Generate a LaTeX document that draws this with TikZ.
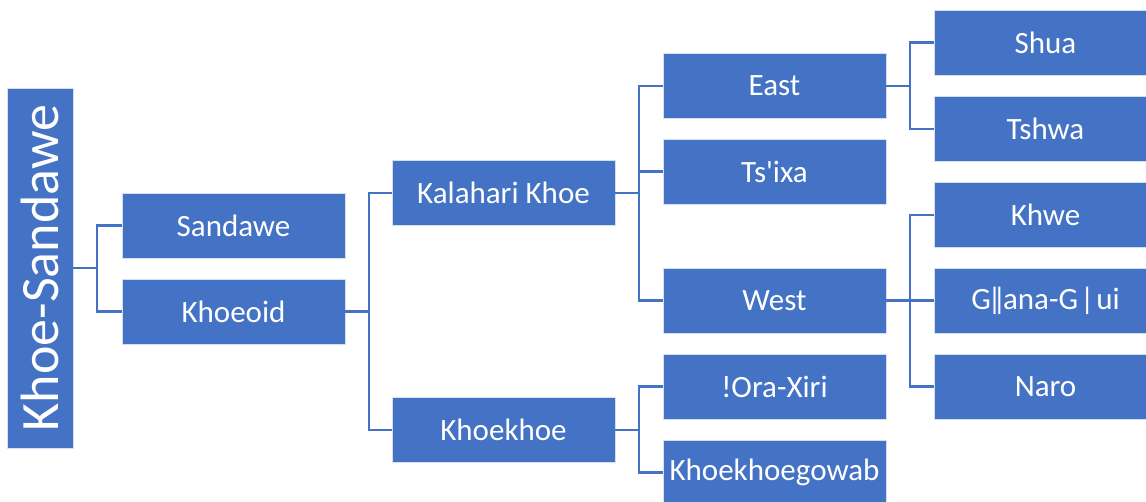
\documentclass[tikz,border=0pt]{standalone}
\usepackage{fontspec}
\setmainfont{Carlito}
\usepackage{graphicx}
\usetikzlibrary{positioning}
\definecolor{officeblue}{HTML}{4472C4}
\definecolor{boxedge}{HTML}{D5DFF2}
\tikzset{
  langbox/.style={rectangle, fill=officeblue, draw=boxedge, line width=0.8pt, text=white,
    minimum width=223pt, minimum height=65pt, inner sep=0pt,
    font=\fontsize{31}{37}\selectfont},
  rootbox/.style={langbox, minimum width=66pt, minimum height=360pt,
    font=\fontsize{54}{60}\selectfont},
  branch/.style={draw=officeblue, line width=2.6pt}
}

\begin{document}
\begin{tikzpicture}[x=1pt, y=-1pt]
    % Frame of the picture
    \clip (0,0) rectangle (1146,502);

    % Root of the family
    \node[rootbox] (root) at (40,268) {\rotatebox{90}{Khoe-Sandawe}};

    % Language boxes
    \foreach \n/\x/\y/\t in {sandawe/233.5/225.5/Sandawe, khoeoid/233.5/311.5/Khoeoid,
        kalahari/503.5/193/Kalahari Khoe, khoekhoe/503.5/430/Khoekhoe,
        east/774.5/86/East, tsixa/774.5/171.5/Ts\textquotesingle ixa, west/774.5/300.5/West,
        oraxiri/774.5/386.5/!Ora-Xiri, gowab/774.5/472.5/Khoekhoegowab,
        shua/1045.5/42.5/Shua, tshwa/1045.5/129/Tshwa, khwe/1045.5/215/Khwe,
        gana/1045.5/300.5/G‖ana-G\kern2pt|\kern2pt ui, naro/1045.5/386.5/Naro} {
      \node[langbox] (\n) at (\x,\y) {\t};
    }

    % Draw the branches from parent to child
    \foreach \p/\c in {root/sandawe, root/khoeoid, khoeoid/kalahari, khoeoid/khoekhoe,
        kalahari/east, kalahari/tsixa, kalahari/west, khoekhoe/oraxiri, khoekhoe/gowab,
        east/shua, east/tshwa, west/khwe, west/gana, west/naro} {
      \draw[branch] (\p.east) -- ++(23.5,0) |- (\c.west);
    }

  \end{tikzpicture}
\end{document}
